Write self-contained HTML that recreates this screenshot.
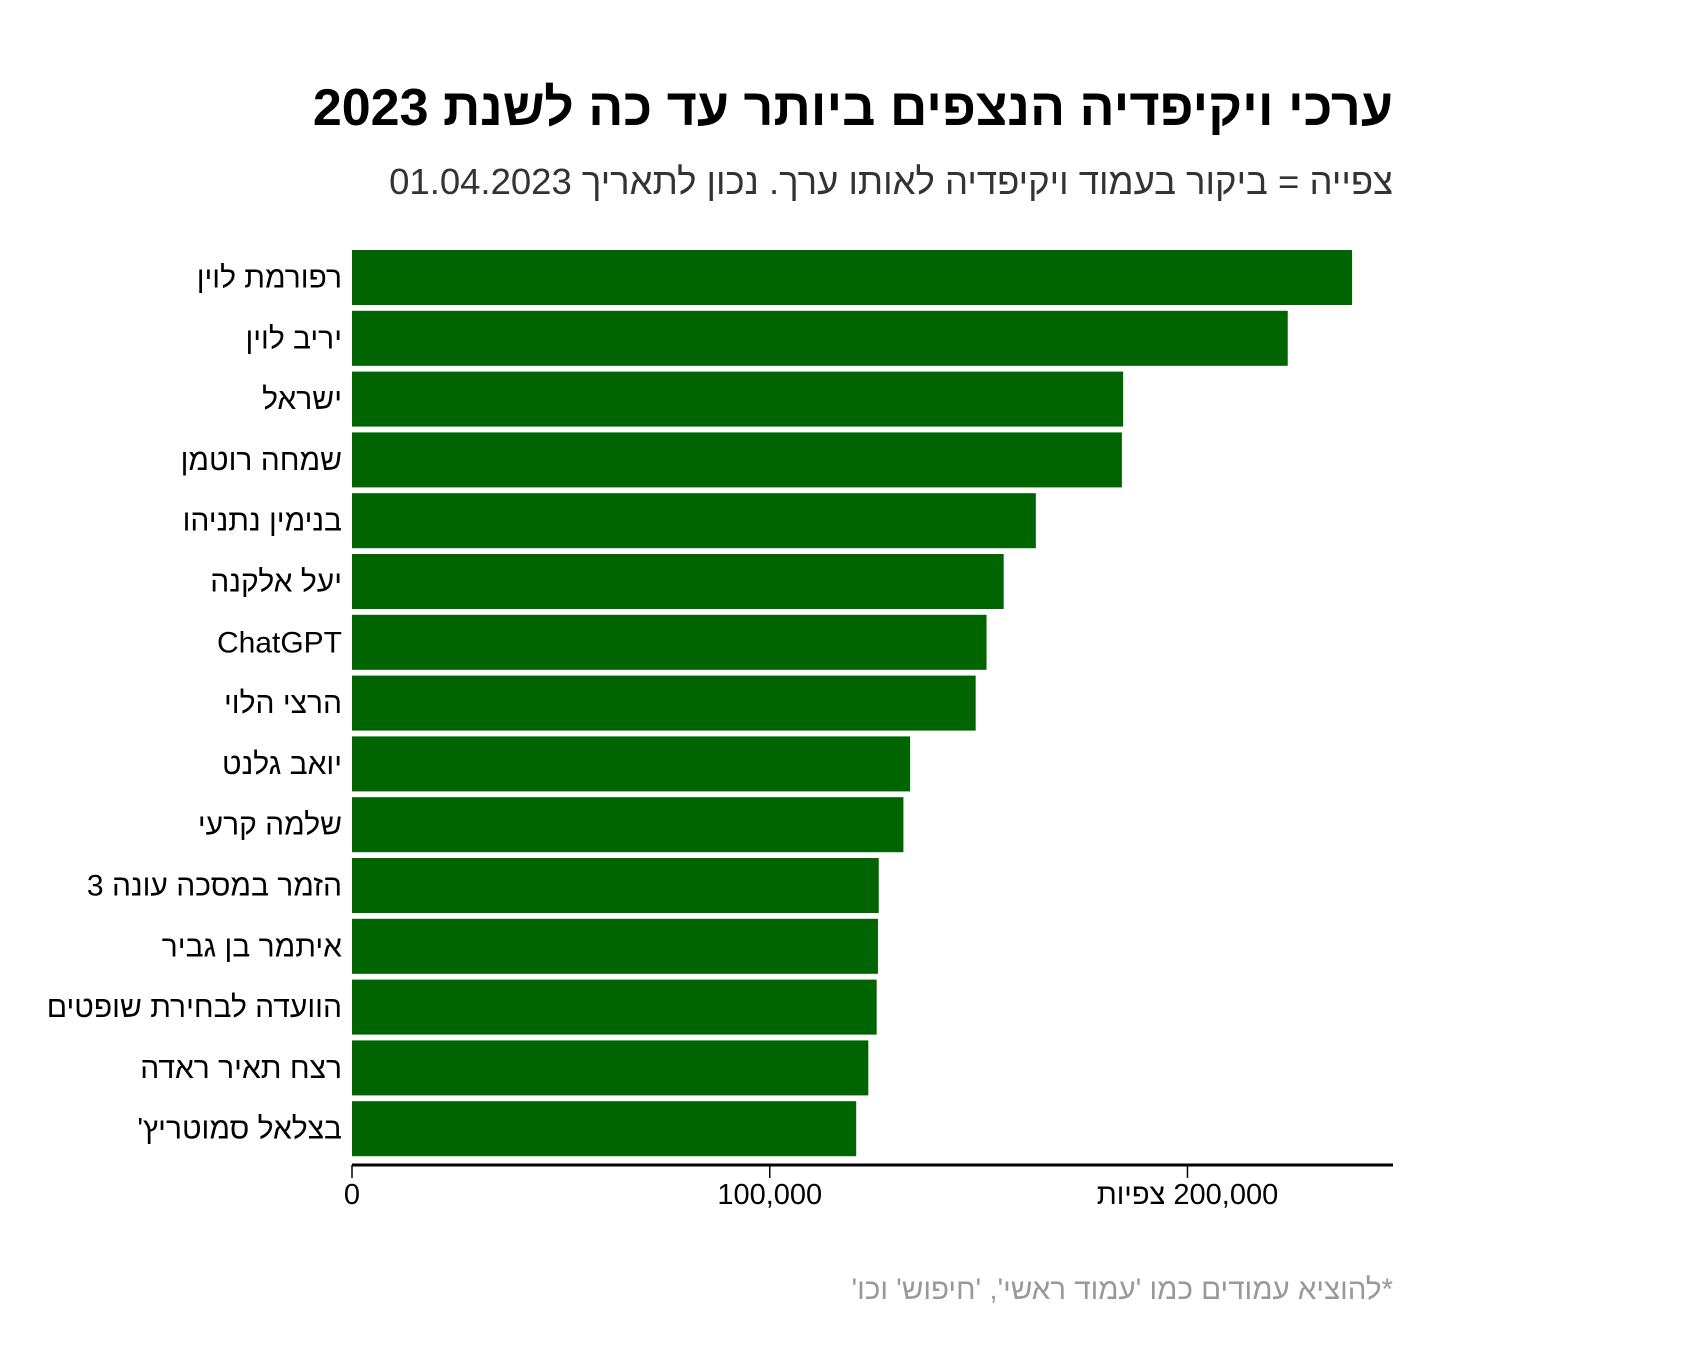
<!DOCTYPE html>
<html><head><meta charset="utf-8"><style>
html,body{margin:0;padding:0;background:#fff;width:1684px;height:1364px;overflow:hidden}
svg text{font-family:"Liberation Sans","Noto Sans CJK SC",sans-serif}
</style></head><body>
<svg id="chart" width="1684" height="1364">
<text x="1393" y="125" text-anchor="start" font-size="52" font-weight="bold" fill="#000" direction="rtl">ערכי ויקיפדיה הנצפים ביותר עד כה לשנת 2023</text>
<text x="1393" y="194" text-anchor="start" font-size="36.5" fill="#333" direction="rtl">צפייה = ביקור בעמוד ויקיפדיה לאותו ערך. נכון לתאריך 01.04.2023</text>
<g id="bars"></g>
<g id="axis"></g>
<text x="1393" y="1299" text-anchor="start" font-size="29.5" fill="#999" direction="rtl">*להוציא עמודים כמו 'עמוד ראשי', 'חיפוש' וכו'</text>
</svg>
<script>
const categories=["רפורמת לוין","יריב לוין","ישראל","שמחה רוטמן","בנימין נתניהו","יעל אלקנה","ChatGPT","הרצי הלוי","יואב גלנט","שלמה קרעי","הזמר במסכה עונה 3","איתמר בן גביר","הוועדה לבחירת שופטים","רצח תאיר ראדה","בצלאל סמוטריץ'"];
const values=[239400,224000,184600,184300,163700,156000,151900,149300,133600,132000,126100,125900,125600,123600,120700];
const tickValues=[0,100000,200000];
const tickLabels=["0","100,000","200,000 צפיות"];
const NS="http://www.w3.org/2000/svg";
const x0=352,x1=1393,xMax=249200;
const xs=v=>x0+(v/xMax)*(x1-x0);
const top0=250,pitch=60.8,bh=55;
const ys=i=>top0+i*pitch;
const axisY=1165;
const gb=document.getElementById('bars');
categories.forEach((c,i)=>{
  const r=document.createElementNS(NS,'rect');
  r.setAttribute('x',x0);r.setAttribute('y',ys(i));
  r.setAttribute('width',xs(values[i])-x0);r.setAttribute('height',bh);
  r.setAttribute('fill','#006400');
  
  
  gb.appendChild(r);
  const t=document.createElementNS(NS,'text');
  t.setAttribute('x',342);t.setAttribute('y',ys(i)+bh/2+10);
  t.setAttribute('text-anchor','start');t.setAttribute('font-size','30');
  t.setAttribute('direction','rtl');
  t.textContent=c;
  
  
  gb.appendChild(t);
});
const ga=document.getElementById('axis');
const l=document.createElementNS(NS,'line');
l.setAttribute('x1',x0);l.setAttribute('x2',x1);l.setAttribute('y1',axisY);l.setAttribute('y2',axisY);
l.setAttribute('stroke','#000');l.setAttribute('stroke-width','3');


ga.appendChild(l);
tickValues.forEach((v,i)=>{
  const tk=document.createElementNS(NS,'line');
  tk.setAttribute('x1',xs(v));tk.setAttribute('x2',xs(v));tk.setAttribute('y1',axisY);tk.setAttribute('y2',axisY+13);
  tk.setAttribute('stroke','#000');tk.setAttribute('stroke-width','1.5');
  
  
  ga.appendChild(tk);
  const t=document.createElementNS(NS,'text');
  t.setAttribute('x',xs(v));t.setAttribute('y',axisY+39);
  t.setAttribute('text-anchor','middle');t.setAttribute('font-size','29');
  t.setAttribute('direction','rtl');
  t.setAttribute('unicode-bidi','plaintext');
  t.textContent=tickLabels[i];
  
  
  ga.appendChild(t);
});
</script>
</body></html>
